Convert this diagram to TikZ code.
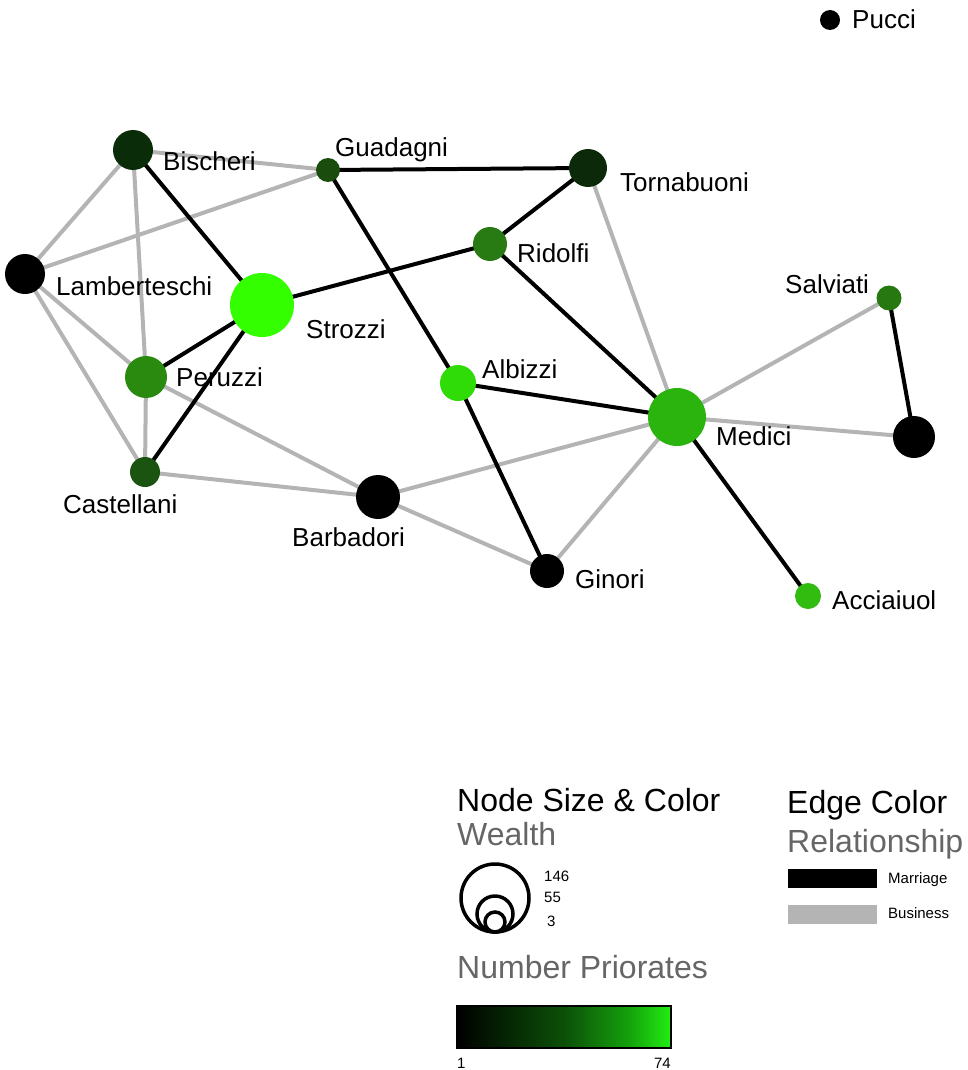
\documentclass[tikz,border=0pt]{standalone}
\usepackage{fontspec}
\setmainfont{Liberation Sans}
\usetikzlibrary{backgrounds}
\definecolor{cBis}{HTML}{0A2C08}
\definecolor{cGua}{HTML}{1A4C0E}
\definecolor{cTor}{HTML}{0C2A0A}
\definecolor{cRid}{HTML}{287A12}
\definecolor{cStr}{HTML}{33FF00}
\definecolor{cSal}{HTML}{287812}
\definecolor{cPer}{HTML}{2A8A10}
\definecolor{cAlb}{HTML}{30DC08}
\definecolor{cMed}{HTML}{2CB40E}
\definecolor{cCas}{HTML}{1A5410}
\definecolor{cAcc}{HTML}{32BC10}
\definecolor{bizgray}{HTML}{B4B4B4}
\definecolor{subgray}{HTML}{666666}
\definecolor{gmid}{RGB}{12,80,8}
\definecolor{ghi}{RGB}{20,160,12}
\definecolor{gtop}{RGB}{34,238,17}
\pgfdeclarehorizontalshading{prior}{100bp}{color(0bp)=(black); color(25bp)=(black); color(50bp)=(gmid); color(65bp)=(ghi); color(75bp)=(gtop); color(100bp)=(gtop)}
\tikzset{
  fam/.style={circle, inner sep=0pt, outer sep=0pt, fill=#1},
  lab/.style={anchor=base west, inner sep=0pt, font=\fontsize{26}{30}\selectfont},
  marr/.style={draw=black, line width=4pt},
  biz/.style={draw=bizgray, line width=4pt},
  ttl/.style={anchor=base west, inner sep=0pt, font=\fontsize{32}{36}\selectfont},
  sml/.style={anchor=base west, inner sep=0pt, font=\fontsize{15}{18}\selectfont},
  wcirc/.style={circle, draw=black, line width=3.5pt, inner sep=0pt}
}
\begin{document}
\begin{tikzpicture}[x=1pt,y=-1pt]
\useasboundingbox (0,0) rectangle (968,1070);
% nodes
\node[fam=black, minimum size=20pt] (Pucci) at (830,20) {};
\node[fam=cBis, minimum size=40pt] (Bischeri) at (133,150) {};
\node[fam=cGua, minimum size=24pt] (Guadagni) at (328,170) {};
\node[fam=cTor, minimum size=38pt] (Tornabuoni) at (588,168) {};
\node[fam=cRid, minimum size=34pt] (Ridolfi) at (490,244) {};
\node[fam=black, minimum size=40pt] (Lamberteschi) at (25,274) {};
\node[fam=cStr, minimum size=64pt] (Strozzi) at (262,305) {};
\node[fam=cSal, minimum size=25pt] (Salviati) at (889,298) {};
\node[fam=cPer, minimum size=42pt] (Peruzzi) at (146,377) {};
\node[fam=cAlb, minimum size=36pt] (Albizzi) at (458,383) {};
\node[fam=cMed, minimum size=58pt] (Medici) at (677,417) {};
\node[fam=black, minimum size=42pt] (Pazzi) at (914,437) {};
\node[fam=cCas, minimum size=30pt] (Castellani) at (145,472) {};
\node[fam=black, minimum size=44pt] (Barbadori) at (378,497) {};
\node[fam=black, minimum size=34pt] (Ginori) at (547,571) {};
\node[fam=cAcc, minimum size=26pt] (Acciaiuol) at (808,596) {};
% edges
\begin{pgfonlayer}{background}
\draw[biz] (Bischeri.center) -- (Guadagni.center);
\draw[biz] (Bischeri.center) -- (Lamberteschi.center);
\draw[biz] (Bischeri.center) -- (Peruzzi.center);
\draw[biz] (Lamberteschi.center) -- (Guadagni.center);
\draw[biz] (Lamberteschi.center) -- (Peruzzi.center);
\draw[biz] (Lamberteschi.center) -- (Castellani.center);
\draw[biz] (Peruzzi.center) -- (Castellani.center);
\draw[biz] (Peruzzi.center) -- (Barbadori.center);
\draw[biz] (Castellani.center) -- (Barbadori.center);
\draw[biz] (Barbadori.center) -- (Medici.center);
\draw[biz] (Barbadori.center) -- (Ginori.center);
\draw[biz] (Ginori.center) -- (Medici.center);
\draw[biz] (Tornabuoni.center) -- (Medici.center);
\draw[biz] (Salviati.center) -- (Medici.center);
\draw[biz] (Medici.center) -- (Pazzi.center);
\draw[marr] (Bischeri.center) -- (Strozzi.center);
\draw[marr] (Guadagni.center) -- (Tornabuoni.center);
\draw[marr] (Guadagni.center) -- (Albizzi.center);
\draw[marr] (Albizzi.center) -- (Ginori.center);
\draw[marr] (Tornabuoni.center) -- (Ridolfi.center);
\draw[marr] (Ridolfi.center) -- (Strozzi.center);
\draw[marr] (Ridolfi.center) -- (Medici.center);
\draw[marr] (Strozzi.center) -- (Peruzzi.center);
\draw[marr] (Strozzi.center) -- (Castellani.center);
\draw[marr] (Albizzi.center) -- (Medici.center);
\draw[marr] (Medici.center) -- (Acciaiuol.center);
\draw[marr] (Salviati.center) -- (Pazzi.center);
\end{pgfonlayer}
% labels
\node[lab] (lPucci) at (852,29) {Pucci};
\node[lab] (lBischeri) at (163,170) {Bischeri};
\node[lab] (lGuadagni) at (335,156) {Guadagni};
\node[lab] (lTornabuoni) at (620,191) {Tornabuoni};
\node[lab] (lRidolfi) at (517,262) {Ridolfi};
\node[lab] (lLamberteschi) at (56,295) {Lamberteschi};
\node[lab] (lStrozzi) at (306,338) {Strozzi};
\node[lab] (lSalviati) at (785,293) {Salviati};
\node[lab] (lPeruzzi) at (176,386) {Peruzzi};
\node[lab] (lAlbizzi) at (482,378) {Albizzi};
\node[lab] (lMedici) at (716,445) {Medici};
\node[lab] (lCastellani) at (63,513) {Castellani};
\node[lab] (lBarbadori) at (292,546) {Barbadori};
\node[lab] (lGinori) at (575,588) {Ginori};
\node[lab] (lAcciaiuol) at (832,609) {Acciaiuol};
% legend
\node[ttl] (tNode) at (457,811) {Node Size \& Color};
\node[ttl, text=subgray] (tWealth) at (457,845) {Wealth};
\node[wcirc, minimum size=68pt] (w146) at (495,898) {};
\node[wcirc, minimum size=36pt] (w55) at (495,914) {};
\node[wcirc, minimum size=20pt] (w3) at (495,922) {};
\node[sml] (l146) at (544,881) {146};
\node[sml] (l55) at (544,902) {55};
\node[sml] (l3) at (547,926) {3};
\node[ttl, text=subgray] (tPrior) at (457,978) {Number Priorates};
\shade[shading=prior, draw=black, line width=2pt] (457,1006) rectangle (671,1048);
\node[sml] (lone) at (457,1068) {1};
\node[sml, anchor=base east] (lsev) at (671,1068) {74};
\node[ttl] (tEdge) at (787,813) {Edge Color};
\node[ttl, text=subgray] (tRel) at (787,852) {Relationship};
\node[fill=black, minimum width=89pt, minimum height=19pt, inner sep=0pt, anchor=north west] (bMarr) at (788,869) {};
\node[fill=bizgray, minimum width=89pt, minimum height=19pt, inner sep=0pt, anchor=north west] (bBiz) at (788,905) {};
\node[sml] (lMarr) at (888,883) {Marriage};
\node[sml] (lBiz) at (888,918) {Business};
\end{tikzpicture}
\end{document}
